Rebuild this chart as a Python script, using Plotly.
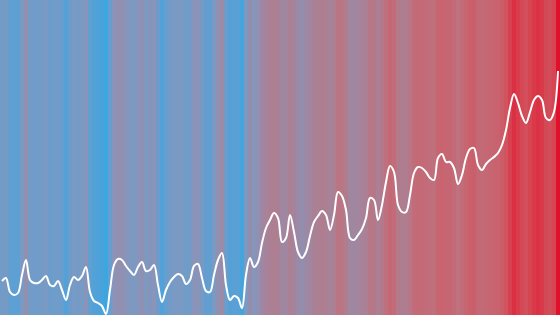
import plotly.graph_objects as go

years = list(range(1880, 2020))

anomaly = [
    -0.33, -0.315, -0.385, -0.40, -0.39, -0.30, -0.225, -0.325, -0.34, -0.34,
    -0.325, -0.305, -0.35, -0.355, -0.33, -0.375, -0.425, -0.35, -0.31, -0.325,
    -0.305, -0.26, -0.385, -0.43, -0.44, -0.455, -0.495, -0.375, -0.25, -0.22,
    -0.225, -0.255, -0.28, -0.30, -0.26, -0.235, -0.28, -0.275, -0.25, -0.35,
    -0.435, -0.375, -0.335, -0.31, -0.295, -0.305, -0.345, -0.325, -0.255, -0.245,
    -0.315, -0.38, -0.385, -0.30, -0.225, -0.19, -0.35, -0.425, -0.405, -0.415,
    -0.465, -0.30, -0.215, -0.26, -0.235, -0.14, -0.065, -0.025, 0.01, -0.015,
    -0.135, -0.115, 0.0, -0.085, -0.185, -0.215, -0.185, -0.105, -0.035, -0.005,
    0.02, 0.0, -0.075, 0.0, 0.115, 0.095, 0.025, -0.115, -0.125, -0.10,
    -0.07, -0.015, 0.085, 0.075, -0.025, 0.05, 0.165, 0.245, 0.215, 0.05,
    0.015, 0.015, 0.10, 0.21, 0.24, 0.235, 0.215, 0.185, 0.175, 0.285,
    0.305, 0.265, 0.265, 0.235, 0.155, 0.20, 0.285, 0.33, 0.335, 0.25,
    0.225, 0.255, 0.275, 0.29, 0.31, 0.35, 0.425, 0.535, 0.605, 0.56,
    0.495, 0.46, 0.515, 0.575, 0.595, 0.575, 0.485, 0.475, 0.515, 0.72,
]

stripe_colors = [
    [0.000, "#3aa6e0"],
    [0.067, "#56a1d7"],
    [0.125, "#6f9cca"],
    [0.167, "#7b99c2"],
    [0.208, "#8b93b7"],
    [0.250, "#998ba9"],
    [0.417, "#ae7e91"],
    [0.542, "#bf707e"],
    [0.667, "#c9626e"],
    [0.792, "#d24e5a"],
    [0.875, "#da3b4a"],
    [1.000, "#e0102c"],
]

fig = go.Figure()
fig.add_trace(go.Heatmap(
    x=years, y=[0], z=[anomaly],
    colorscale=stripe_colors, zmin=-0.5, zmax=0.72,
    showscale=False, hoverinfo="skip",
))
fig.add_trace(go.Scatter(
    x=years, y=anomaly, mode="lines", yaxis="y2",
    line=dict(color="white", width=2, shape="spline", smoothing=1),
    hoverinfo="skip",
))
fig.update_layout(
    width=560, height=315,
    margin=dict(l=0, r=0, t=0, b=0),
    paper_bgcolor="white", plot_bgcolor="white",
    showlegend=False,
    xaxis=dict(range=[1879.5, 2019.5], visible=False, fixedrange=True),
    yaxis=dict(range=[-0.5, 0.5], visible=False, fixedrange=True),
    yaxis2=dict(range=[-0.5, 1.075], visible=False, overlaying="y", fixedrange=True),
)
fig.write_html("out.html", config={"displayModeBar": False})
